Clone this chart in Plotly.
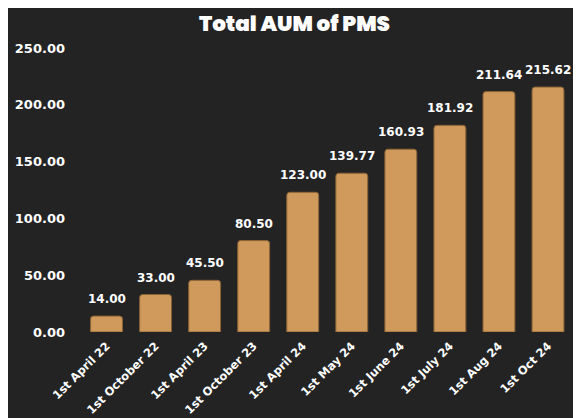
import plotly.graph_objects as go

dates = ['1st April 22', '1st October 22', '1st April 23', '1st October 23', '1st April 24',
         '1st May 24', '1st June 24', '1st July 24', '1st Aug 24', '1st Oct 24']
aum = [14.00, 33.00, 45.50, 80.50, 123.00, 139.77, 160.93, 181.92, 211.64, 215.62]
y_ticks = [0, 50, 100, 150, 200, 250]

bg = '#232323'
bar_col = '#CF9A5B'

fig = go.Figure()
fig.add_trace(go.Bar(
    x=dates, y=aum,
    marker=dict(color=bar_col, line=dict(color='#8a6235', width=1), cornerradius=3),
))

# value labels above the bars
for d, v in zip(dates, aum):
    fig.add_annotation(x=d, y=v, text='<b>%.2f</b>' % v, showarrow=False,
                       yanchor='bottom', yshift=8,
                       font=dict(color='white', size=12, family='DejaVu Sans'))

# page body has an 8px margin, so the figure is a bit smaller than the window
fig.update_layout(
    width=573, height=410,
    paper_bgcolor=bg, plot_bgcolor=bg,
    margin=dict(l=74, r=8, t=40, b=86),
    bargap=0.35,
    showlegend=False,
    title=dict(text='Total AUM of PMS', x=0.5, xanchor='center', y=0.962, yanchor='middle',
               font=dict(color='white', size=21.5, family='Poppins, Lato', weight=900)),
    font=dict(family='DejaVu Sans', color='white'),
)
fig.update_yaxes(range=[0, 250], tickvals=y_ticks, ticktext=['<b>%.2f</b>' % v for v in y_ticks],
                 showgrid=False, zeroline=False, ticks='', ticklabelstandoff=16, automargin=False,
                 tickfont=dict(size=13, color='white'))
fig.update_xaxes(tickangle=-45, showgrid=False, showline=False, ticks='', automargin=False,
                 ticktext=['<b>%s</b>' % d for d in dates], tickvals=dates, ticklabelstandoff=4,
                 tickfont=dict(size=11.5, color='white'))

fig.write_html('out.html')
